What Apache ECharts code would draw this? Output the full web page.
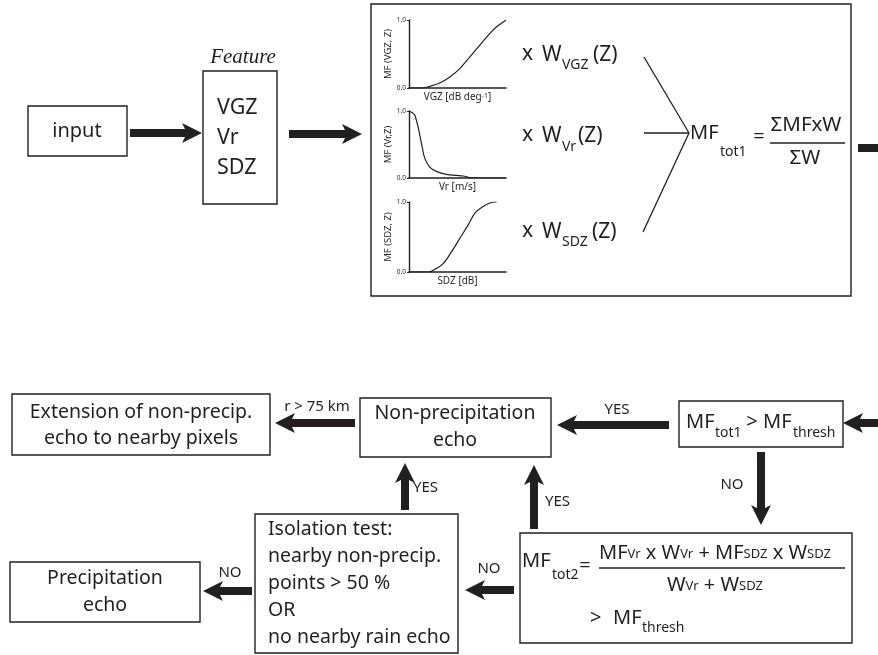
<!DOCTYPE html>
<html>
<head>
<meta charset="utf-8">
<script src="https://cdn.jsdelivr.net/npm/echarts@6/dist/echarts.min.js"></script>
<style>
  html, body { margin: 0; padding: 0; background: #fff; }
  #main { width: 878px; height: 655px; }
</style>
</head>
<body>
<div id="main"></div>
<script>
// membership functions, x scaled 0..1 along the axis, y = MF value
var vgzX  = [0, 0.128, 0.214, 0.317, 0.421, 0.524, 0.628, 0.731, 0.834, 0.903, 0.972, 1.0];
var vgzMF = [0, 0, 0.025, 0.074, 0.163, 0.286, 0.458, 0.631, 0.803, 0.901, 0.970, 1.0];
var vrX   = [0, 0.041, 0.059, 0.093, 0.128, 0.162, 0.214, 0.283, 0.386, 0.490, 0.559, 0.628, 0.697, 1.0];
var vrMF  = [1.0, 0.966, 0.941, 0.768, 0.522, 0.296, 0.163, 0.099, 0.054, 0.039, 0.030, 0.005, 0, 0];
var sdzX  = [0, 0.197, 0.266, 0.352, 0.438, 0.524, 0.610, 0.679, 0.748, 0.834, 0.903];
var sdzMF = [0, 0, 0.038, 0.120, 0.288, 0.481, 0.673, 0.841, 0.923, 0.986, 1.0];

var featureNames = ['VGZ', 'Vr', 'SDZ'];
var xAxisNames = ['{n|VGZ [dB deg}{sup|-1}{n|]}', '{n|Vr [m/s]}', '{n|SDZ [dB]}'];
var yAxisNames = ['MF (VGZ, Z)', 'MF (Vr,Z)', 'MF (SDZ, Z)'];
var yTicks = [0, 1];

var INK = '#231f20';
var FONT = 'Noto Sans';

var chart = echarts.init(document.getElementById('main'));

function pairs(xs, ys) {
  return xs.map(function (x, i) { return [x, ys[i]]; });
}
var curves = [pairs(vgzX, vgzMF), pairs(vrX, vrMF), pairs(sdzX, sdzMF)];

// little MF plots inside the big box
var grids = [
  { left: 409, top: 20, width: 97, height: 68 },
  { left: 409, top: 111, width: 97, height: 67 },
  { left: 409, top: 202, width: 97, height: 70 }
];

var xAxes = [], yAxes = [], series = [];
for (var i = 0; i < 3; i++) {
  xAxes.push({
    gridIndex: i, type: 'value', min: 0, max: 1,
    axisLine: { lineStyle: { color: INK, width: 1.6 } },
    axisTick: { show: false }, axisLabel: { show: false }, splitLine: { show: false },
    name: xAxisNames[i], nameLocation: 'middle', nameGap: 4,
    nameTextStyle: {
      color: INK, fontFamily: FONT, fontSize: 10,
      rich: {
        n: { fontSize: 10, fontFamily: FONT, color: INK },
        sup: { fontSize: 7, fontFamily: FONT, color: INK, verticalAlign: 'top' }
      }
    }
  });
  yAxes.push({
    gridIndex: i, type: 'value', min: yTicks[0], max: yTicks[1], interval: 1,
    axisLine: { show: true, lineStyle: { color: INK, width: 1.4 } },
    axisTick: { show: true, length: 2, lineStyle: { color: INK } },
    axisLabel: { fontSize: 6.5, fontFamily: FONT, color: INK, margin: 3,
      formatter: function (v) { return v.toFixed(1); } },
    splitLine: { show: false },
    name: yAxisNames[i], nameLocation: 'middle', nameGap: 12, nameRotate: 90,
    nameTextStyle: { color: INK, fontFamily: FONT, fontSize: 9.5 }
  });
  series.push({
    type: 'line', xAxisIndex: i, yAxisIndex: i, data: curves[i],
    showSymbol: false, smooth: 0.35, lineStyle: { color: INK, width: 1.2 }
  });
}

// drawing helpers for the flow diagram
function box(x1, y1, x2, y2) {
  return { type: 'rect', shape: { x: x1, y: y1, width: x2 - x1, height: y2 - y1 },
    style: { fill: 'rgba(0,0,0,0)', stroke: INK, lineWidth: 1.4 } };
}
function line(x1, y1, x2, y2) {
  return { type: 'line', shape: { x1: x1, y1: y1, x2: x2, y2: y2 },
    style: { stroke: INK, lineWidth: 1.3 } };
}
function txt(x, y, s, size, align, extra) {
  var st = { text: s, x: x, y: y, fill: INK, fontSize: size, fontFamily: FONT,
    align: align || 'center', textAlign: align || 'center',
    verticalAlign: 'middle', textVerticalAlign: 'middle' };
  if (extra) for (var k in extra) st[k] = extra[k];
  return { type: 'text', style: st };
}
function arrow(x1, y1, x2, y2) {
  var dx = x2 - x1, dy = y2 - y1, len = Math.sqrt(dx * dx + dy * dy);
  var ux = dx / len, uy = dy / len, nx = -uy, ny = ux;
  var hw = 4, hl = 20, hh = 10;
  var bx = x2 - ux * hl, by = y2 - uy * hl;
  var sx = bx + ux * 3, sy = by + uy * 3;
  var pts = [
    [x1 + nx * hw, y1 + ny * hw], [sx + nx * hw, sy + ny * hw],
    [bx + nx * hh, by + ny * hh], [x2, y2], [bx - nx * hh, by - ny * hh],
    [sx - nx * hw, sy - ny * hw], [x1 - nx * hw, y1 - ny * hw]
  ];
  return { type: 'polygon', shape: { points: pts }, style: { fill: INK } };
}

var sub = 14, body = 19.5, lab = 15;
var richFrac = {
  m: { fontSize: 20, fontFamily: FONT, color: INK, verticalAlign: 'bottom' },
  s: { fontSize: 13, fontFamily: FONT, color: INK, verticalAlign: 'bottom', padding: [0, 0, 2, 0] }
};

var els = [
  // top row
  box(28, 106, 127, 156), txt(77, 131, 'input', 20),
  arrow(130, 133, 202, 133),
  txt(243, 57, 'Feature', 21, 'center', { fontFamily: 'Liberation Serif', fontStyle: 'italic' }),
  box(203, 71, 277, 204),
  txt(217, 108, featureNames[0], 21.5, 'left'),
  txt(217, 138, featureNames[1], 21.5, 'left'),
  txt(217, 168, featureNames[2], 21.5, 'left'),
  arrow(289, 134, 362, 134),
  box(371, 4, 851, 296),

  txt(522, 54, 'x', 21, 'left'), txt(542, 55, 'W', 21, 'left'),
  txt(562, 65, 'VGZ', sub, 'left'), txt(593, 55, '(Z)', 21, 'left'),
  txt(522, 135, 'x', 21, 'left'), txt(542, 136, 'W', 21, 'left'),
  txt(562, 147, 'Vr', sub, 'left'), txt(578, 136, '(Z)', 21, 'left'),
  txt(522, 231, 'x', 21, 'left'), txt(542, 232, 'W', 21, 'left'),
  txt(562, 242, 'SDZ', sub, 'left'), txt(592, 232, '(Z)', 21, 'left'),

  line(644, 57, 689, 133), line(644, 133, 689, 133), line(643, 232, 689, 133),
  txt(690, 133, 'MF', 20, 'left'), txt(720, 152, 'tot1', sub, 'left'),
  txt(759, 137, '=', 20),
  txt(806, 125, 'ΣMFxW', 20.5), line(770, 143, 845, 143), txt(805, 158, 'ΣW', 20.5),
  { type: 'rect', shape: { x: 858, y: 144, width: 20, height: 8 }, style: { fill: INK } },

  // bottom part
  box(12, 394, 270, 455),
  txt(141, 412, 'Extension of non-precip.', body), txt(141, 438, 'echo to nearby pixels', body),
  txt(317, 407, 'r > 75 km', lab),
  arrow(355, 423, 275, 423),
  box(360, 398, 551, 457),
  txt(455, 413, 'Non-precipitation', body), txt(455, 440, 'echo', body),
  txt(617, 410, 'YES', lab),
  arrow(669, 425, 557, 425),
  box(679, 401, 843, 447),
  txt(686, 422, 'MF', 20, 'left'), txt(715, 433, 'tot1', sub, 'left'),
  txt(752, 422, '>', 20), txt(763, 422, 'MF', 20, 'left'), txt(793, 433, 'thresh', sub, 'left'),
  arrow(878, 423, 843, 423),
  arrow(761, 452, 761, 525), txt(732, 485, 'NO', lab),
  box(520, 533, 852, 643),
  arrow(534, 529, 534, 465), txt(545, 502, 'YES', lab, 'left'),
  arrow(514, 590, 465, 590), txt(489, 569, 'NO', lab),
  box(255, 514, 458, 653),
  txt(268, 529, 'Isolation test:', body, 'left'),
  txt(268, 556, 'nearby non-precip.', body, 'left'),
  txt(268, 583, 'points > 50 %', body, 'left'),
  txt(268, 610, 'OR', body, 'left'),
  txt(268, 637, 'no nearby rain echo', body, 'left'),
  arrow(405, 510, 405, 463), txt(413, 488, 'YES', lab, 'left'),
  arrow(252, 591, 203, 591), txt(230, 573, 'NO', lab),
  box(10, 562, 200, 622),
  txt(105, 578, 'Precipitation', body), txt(105, 605, 'echo', body),

  // MF_tot2 formula
  txt(522, 561, 'MF', 20, 'left'), txt(552, 575, 'tot2', sub, 'left'),
  txt(585, 566, '=', 20),
  txt(599, 553, '{m|MF}{s|Vr}{m| x W}{s|Vr}{m| + MF}{s|SDZ}{m| x W}{s|SDZ}', 20, 'left', { rich: richFrac }),
  line(599, 568, 845, 568),
  txt(715, 585, '{m|W}{s|Vr}{m| + W}{s|SDZ}', 20, 'center', { rich: richFrac }),
  txt(590, 618, '>', 20, 'left'), txt(613, 618, 'MF', 20, 'left'), txt(642, 628, 'thresh', sub, 'left')
];

chart.setOption({
  animation: false,
  backgroundColor: '#fff',
  grid: grids,
  xAxis: xAxes,
  yAxis: yAxes,
  series: series,
  graphic: { elements: els }
});
</script>
</body>
</html>
